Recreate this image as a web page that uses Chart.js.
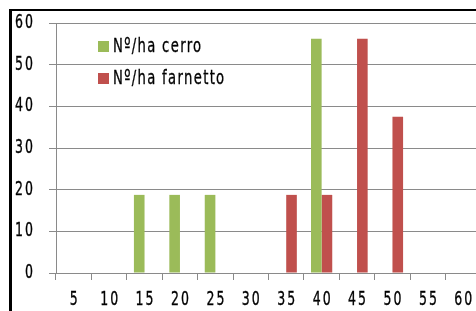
<!DOCTYPE html>
<html>
<head>
<meta charset="utf-8">
<script src="https://cdn.jsdelivr.net/npm/chart.js@4"></script>
<style>
  html, body { margin: 0; padding: 0; background: #fff; overflow: hidden; }
  #wrap { position: relative; width: 476px; height: 311px; overflow: hidden; }
  #chart { position: absolute; left: 0; top: 0; }
  #frame {
    position: absolute; left: 9px; top: 9px; width: 600px; height: 400px;
    border-left: 3px solid #000; border-top: 2px solid #000;
    pointer-events: none;
  }
</style>
</head>
<body>
<div id="wrap">
  <canvas id="chart" width="500" height="311"></canvas>
  <div id="frame"></div>
</div>
<script>
// diameter classes (cm) and stems per hectare
const categories = ["5", "10", "15", "20", "25", "30", "35", "40", "45", "50", "55", "60"];
const cerro = [0, 0, 18.75, 18.75, 18.75, 0, 0, 56.25, 0, 0, 0, 0];
const farnetto = [0, 0, 0, 0, 0, 0, 18.75, 18.75, 56.25, 37.5, 0, 0];
const yTicks = [0, 10, 20, 30, 40, 50, 60];

const FONT = "19px 'DejaVu Sans', sans-serif";
const LEGEND_FONT = "20px 'DejaVu Sans', sans-serif";
const SQUEEZE = 0.66; // the original uses a very narrow face
const GRID = "#8a8a8a";

function narrowText(ctx, text, x, y, align) {
  ctx.save();
  ctx.translate(x, y);
  ctx.scale(SQUEEZE, 1);
  ctx.textAlign = align;
  ctx.fillText(text, 0, 0);
  ctx.strokeText(text, 0, 0);
  ctx.restore();
}

// tick labels and legend drawn with a condensed look
const narrowLabels = {
  id: "narrowLabels",
  afterDraw(chart) {
    const ctx = chart.ctx;
    const xs = chart.scales.x;
    const ys = chart.scales.y;
    ctx.save();
    ctx.font = FONT;
    ctx.fillStyle = "#000";
    ctx.strokeStyle = "#000";
    ctx.lineWidth = 0.35;
    ctx.textBaseline = "middle";
    ctx.letterSpacing = "3px";
    ys.ticks.forEach((t, i) => {
      narrowText(ctx, String(t.value), ys.right - 21, ys.getPixelForTick(i), "right");
    });
    xs.ticks.forEach((t, i) => {
      narrowText(ctx, xs.getLabelForValue(t.value), xs.getPixelForTick(i) + 1, xs.top + 27, "center");
    });
    ctx.font = LEGEND_FONT;
    ctx.letterSpacing = "2px";
    chart.data.datasets.forEach((ds, i) => {
      const y = 41 + i * 32;
      ctx.fillStyle = ds.backgroundColor;
      ctx.fillRect(98, y, 11, 11);
      ctx.fillStyle = "#000";
      narrowText(ctx, ds.label, 113, y + 6, "left");
    });
    ctx.restore();
  },
};

new Chart(document.getElementById("chart"), {
  type: "bar",
  data: {
    labels: categories,
    datasets: [
      { label: "Nº/ha cerro", data: cerro, backgroundColor: "#9bbb59" },
      { label: "Nº/ha farnetto", data: farnetto, backgroundColor: "#c0504d" },
    ],
  },
  options: {
    responsive: false,
    animation: false,
    datasets: { bar: { categoryPercentage: 0.6, barPercentage: 1.0, borderWidth: 0 } },
    layout: { padding: { left: 0, top: 23, right: 19, bottom: 0 } },
    plugins: { legend: { display: false }, tooltip: { enabled: false } },
    scales: {
      x: {
        grid: { offset: true, drawOnChartArea: false, tickLength: 7, color: GRID },
        border: { color: GRID },
        ticks: { display: false },
        afterFit: (s) => { s.height = 38; },
      },
      y: {
        min: 0,
        max: 60,
        afterBuildTicks: (s) => { s.ticks = yTicks.map((v) => ({ value: v })); },
        grid: { tickLength: 7, color: GRID },
        border: { color: GRID },
        ticks: { display: false },
        afterFit: (s) => { s.width = 56; },
      },
    },
  },
  plugins: [narrowLabels],
});
</script>
</body>
</html>
